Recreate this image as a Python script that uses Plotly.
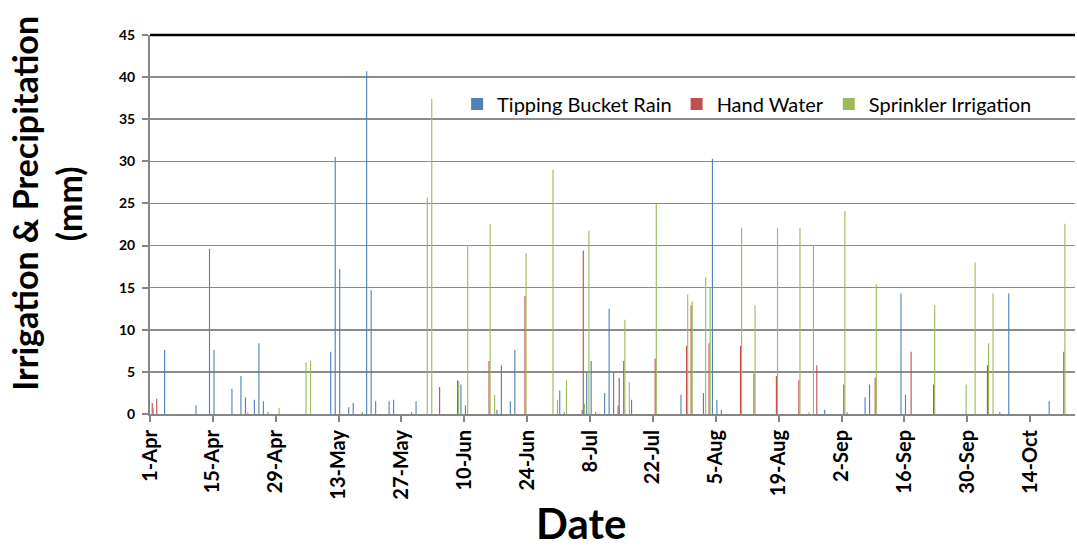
import plotly.graph_objects as go

# ---------------- data (mm per day) ----------------
rain_dates = ["2013-04-04", "2013-04-11", "2013-04-14", "2013-04-15", "2013-04-19", "2013-04-21",
              "2013-04-22", "2013-04-24", "2013-04-25", "2013-04-26", "2013-04-27", "2013-05-11",
              "2013-05-12", "2013-05-13", "2013-05-15", "2013-05-16", "2013-05-18", "2013-05-19",
              "2013-05-20", "2013-05-21", "2013-05-24", "2013-05-25", "2013-05-29", "2013-05-30",
              "2013-06-09", "2013-06-10", "2013-06-17", "2013-06-18", "2013-06-20", "2013-06-21",
              "2013-07-01", "2013-07-02", "2013-07-06", "2013-07-07", "2013-07-08", "2013-07-09",
              "2013-07-11", "2013-07-12", "2013-07-13", "2013-07-14", "2013-07-17", "2013-07-28",
              "2013-08-02", "2013-08-04", "2013-08-05", "2013-08-06", "2013-08-29", "2013-09-03",
              "2013-09-07", "2013-09-08", "2013-09-15", "2013-09-16", "2013-10-07", "2013-10-09",
              "2013-10-18"]
rain_mm = [7.6, 1.0, 19.6, 7.6, 3.0, 4.5,
           2.0, 1.7, 8.4, 1.5, 0.2, 7.4,
           30.5, 17.2, 0.8, 1.3, 0.2, 40.7,
           14.7, 1.5, 1.5, 1.7, 0.2, 1.5,
           3.5, 1.0, 0.5, 5.8, 1.5, 7.6,
           2.8, 0.2, 0.5, 4.9, 6.3, 0.2,
           2.5, 12.5, 5.0, 1.0, 1.7, 2.3,
           2.5, 30.3, 1.7, 0.5, 0.5, 0.2,
           2.0, 3.5, 14.3, 2.3, 0.2, 14.3,
           1.5]

hand_dates = ["2013-04-01", "2013-04-02", "2013-06-04", "2013-06-08", "2013-06-15", "2013-06-23",
              "2013-07-06", "2013-07-14", "2013-07-15", "2013-07-22", "2013-07-29", "2013-07-30",
              "2013-08-03", "2013-08-10", "2013-08-13", "2013-08-18", "2013-08-23", "2013-08-27",
              "2013-09-02", "2013-09-09", "2013-09-17", "2013-09-22", "2013-10-04", "2013-10-21"]
hand_mm = [1.3, 1.8, 3.2, 4.0, 6.3, 14.0,
           19.4, 4.3, 6.3, 6.6, 8.1, 12.9,
           8.4, 8.1, 4.8, 4.5, 4.0, 5.8,
           3.5, 4.3, 7.4, 3.5, 5.8, 7.4]

sprinkler_dates = ["2013-04-01", "2013-04-22", "2013-04-29", "2013-05-05", "2013-05-06", "2013-06-01",
                   "2013-06-02", "2013-06-08", "2013-06-10", "2013-06-15", "2013-06-16", "2013-06-23",
                   "2013-06-29", "2013-06-30", "2013-07-02", "2013-07-06", "2013-07-07", "2013-07-15",
                   "2013-07-16", "2013-07-22", "2013-07-29", "2013-07-30", "2013-08-02", "2013-08-03",
                   "2013-08-10", "2013-08-13", "2013-08-18", "2013-08-23", "2013-08-25", "2013-08-26",
                   "2013-09-02", "2013-09-09", "2013-09-22", "2013-09-29", "2013-10-01", "2013-10-04",
                   "2013-10-05", "2013-10-21"]
sprinkler_mm = [0.7, 0.2, 0.7, 6.1, 6.3, 25.7,
                37.4, 3.9, 20.0, 22.6, 2.3, 19.1,
                29.0, 1.7, 4.0, 1.2, 21.8, 11.2,
                3.8, 24.9, 14.2, 13.4, 16.2, 15.0,
                22.1, 12.9, 22.1, 22.1, 0.2, 20.0,
                24.1, 15.4, 12.9, 3.5, 18.0, 8.4,
                14.3, 22.6]

series_names = ["Tipping Bucket Rain", "Hand Water", "Sprinkler Irrigation"]
series_colors = ["#4F81BD", "#C0504D", "#9BBB59"]

x_start = "2013-04-01"
x_end = "2013-10-24"
y_ticks = [0, 5, 10, 15, 20, 25, 30, 35, 40, 45]

FONT = "Lato"
DAY_MS = 86400000

fig = go.Figure()
for name, color, xs, ys in zip(series_names, series_colors,
                               [rain_dates, hand_dates, sprinkler_dates],
                               [rain_mm, hand_mm, sprinkler_mm]):
    fig.add_trace(go.Bar(
        x=xs, y=ys, name=name,
        marker=dict(color=color, line=dict(width=0)),
        xperiod=DAY_MS, xperiodalignment="middle",
    ))

fig.update_layout(
    width=1077, height=550,
    margin=dict(l=150, r=2, t=35, b=136),
    paper_bgcolor="white", plot_bgcolor="white",
    barmode="group", bargap=0.25, bargroupgap=0.0,
    font=dict(family=FONT, color="black"),
    showlegend=True,
    legend=dict(orientation="h", x=0.332, y=0.818, xanchor="left", yanchor="middle",
                font=dict(family=FONT, size=20, color="black"),
                bgcolor="rgba(0,0,0,0)", traceorder="normal"),
    xaxis=dict(
        type="date", range=[x_start, x_end],
        tick0=x_start, dtick=14 * DAY_MS, tickformat="%-d-%b",
        tickangle=-90, ticks="outside", ticklen=6, tickwidth=2, tickcolor="#868686",
        showline=True, linecolor="#868686", linewidth=2,
        showgrid=False, zeroline=False,
        tickfont=dict(family=FONT, size=20, color="black", weight="bold"),
    ),
    yaxis=dict(
        range=[0, 45], tickvals=y_ticks,
        ticks="outside", ticklen=6, tickwidth=2, tickcolor="#868686",
        showline=True, linecolor="#868686", linewidth=2,
        showgrid=True, gridcolor="#8c8c8c", gridwidth=1.5, zeroline=False,
        ticklabelstandoff=4,
        tickfont=dict(family=FONT, size=14, color="black", weight="bold"),
    ),
)

# top border line of plot area
fig.add_shape(type="line", xref="paper", yref="paper", x0=0, x1=1, y0=1, y1=1,
              line=dict(color="black", width=2.5))

# axis titles
fig.add_annotation(text="<b>Irrigation & Precipitation</b>", textangle=-90,
                   xref="paper", yref="paper", x=-0.135, y=0.555,
                   xanchor="center", yanchor="middle", showarrow=False,
                   font=dict(family=FONT, size=34, color="black"))
fig.add_annotation(text="<b>(mm)</b>", textangle=-90,
                   xref="paper", yref="paper", x=-0.088, y=0.555,
                   xanchor="center", yanchor="middle", showarrow=False,
                   font=dict(family=FONT, size=34, color="black"))
fig.add_annotation(text="<b>Date</b>", xref="paper", yref="paper", x=0.466, y=-0.3588,
                   xanchor="center", yanchor="bottom", showarrow=False,
                   font=dict(family=FONT, size=42, color="black"))

fig.write_html("out.html", config={"staticPlot": True},
               post_script="document.body.style.margin='0px';")
